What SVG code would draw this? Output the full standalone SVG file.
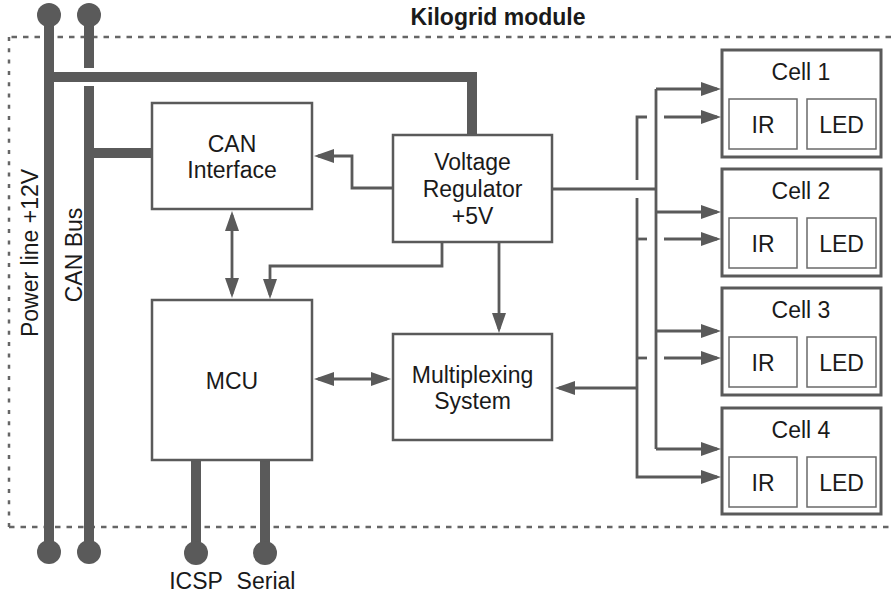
<svg xmlns="http://www.w3.org/2000/svg" width="891" height="596" viewBox="0 0 891 596">
<defs>
<style>
text{font-family:"Liberation Sans",Arial,Helvetica,sans-serif;font-size:23px;fill:#1a1a1a;text-anchor:middle}
.bold{font-weight:bold}
.box{fill:#fff;stroke:#5a5a5a;stroke-width:2.5}
.cell{fill:#fff;stroke:#5a5a5a;stroke-width:3}
.inner{fill:#fff;stroke:#6a6a6a;stroke-width:1.5}
.bus{fill:none;stroke:#5a5a5a;stroke-width:10}
.wire{fill:none;stroke:#5a5a5a;stroke-width:2.8}
.arr{marker-end:url(#ah)}
.darr{marker-start:url(#ah);marker-end:url(#ah)}
.dot{fill:#5a5a5a}
.frame{fill:none;stroke:#666;stroke-width:2.5;stroke-dasharray:5.5 6}
.frame-v{fill:none;stroke:#666;stroke-width:2.5;stroke-dasharray:4 7.3}
</style>
<marker id="ah" viewBox="0 0 20 14" refX="16" refY="7" markerWidth="20" markerHeight="14" markerUnits="userSpaceOnUse" orient="auto-start-reverse">
<path d="M0,0 L20,7 L0,14 z" fill="#5a5a5a"/>
</marker>
</defs>

<g id="frame">
<path class="frame" d="M891 37 H9"/>
<path class="frame-v" d="M9 37 V527"/>
<path class="frame" d="M9 527 H891"/>
<text class="bold" x="498" y="25">Kilogrid module</text>
</g>

<g id="connectors">
<!-- power line -->
<path class="bus" d="M49 15 V552"/>
<path class="bus" d="M49 77 H472 V136" stroke-linejoin="miter"/>
<!-- CAN bus -->
<path class="bus" d="M89 15 V68"/>
<path class="bus" d="M89 86 V552"/>
<path class="bus" d="M89 153 H153"/>
<!-- ICSP / Serial -->
<path class="bus" d="M196 460 V553"/>
<path class="bus" d="M265 460 V553"/>
<!-- regulator to CAN interface -->
<path class="wire arr" d="M393 188 H352 V156 H318"/>
<!-- regulator to MCU -->
<path class="wire arr" d="M442 242 V266 H270 V295"/>
<!-- CAN interface <-> MCU -->
<path class="wire darr" d="M232 215 V294"/>
<!-- regulator to multiplexing -->
<path class="wire arr" d="M499 242 V329"/>
<!-- MCU <-> multiplexing -->
<path class="wire darr" d="M318 379 H387"/>
<!-- regulator power to cells -->
<path class="wire" d="M552 189 H656"/>
<path class="wire" d="M656 89 V449"/>
<path class="wire arr" d="M656 89 H717"/>
<path class="wire arr" d="M656 212 H717"/>
<path class="wire arr" d="M656 331 H717"/>
<path class="wire arr" d="M656 449 H717"/>
<!-- multiplexing bus -->
<path class="wire" d="M647 117 H637 V180"/>
<path class="wire" d="M637 198 V477 H717" marker-end="url(#ah)"/>
<path class="wire arr" d="M664 117 H717"/>
<path class="wire" d="M637 239 H647"/>
<path class="wire arr" d="M664 239 H717"/>
<path class="wire" d="M637 358 H647"/>
<path class="wire arr" d="M664 358 H717"/>
<path class="wire arr" d="M637 388 H559"/>
</g>

<g id="terminals">
<circle class="dot" cx="49" cy="15" r="12"/>
<circle class="dot" cx="89" cy="15" r="12"/>
<circle class="dot" cx="49" cy="552" r="12"/>
<circle class="dot" cx="89" cy="552" r="12"/>
<circle class="dot" cx="196" cy="553" r="12"/>
<circle class="dot" cx="265" cy="553" r="12"/>
<text x="196" y="589">ICSP</text>
<text x="266" y="589">Serial</text>
<text transform="translate(38 253) rotate(-90)">Power line +12V</text>
<text transform="translate(82 255) rotate(-90)">CAN Bus</text>
</g>

<g id="can-interface">
<rect class="box" x="152" y="103" width="160" height="106"/>
<text x="232" y="152">CAN</text>
<text x="232" y="178">Interface</text>
</g>

<g id="voltage-regulator">
<rect class="box" x="393" y="135" width="159" height="107"/>
<text x="472.5" y="170">Voltage</text>
<text x="472.5" y="197">Regulator</text>
<text x="472.5" y="224">+5V</text>
</g>

<g id="mcu">
<rect class="box" x="152" y="300" width="160" height="160"/>
<text x="232" y="389">MCU</text>
</g>

<g id="multiplexing">
<rect class="box" x="393" y="334" width="159" height="106"/>
<text x="472.5" y="383">Multiplexing</text>
<text x="472.5" y="409">System</text>
</g>

<g id="cell1">
<rect class="cell" x="722" y="50" width="159" height="107"/>
<text x="801" y="80">Cell 1</text>
<rect class="inner" x="729" y="99" width="68" height="50"/>
<rect class="inner" x="807" y="99" width="69" height="50"/>
<text x="763" y="133">IR</text>
<text x="841.5" y="133">LED</text>
</g>

<g id="cell2">
<rect class="cell" x="722" y="169" width="159" height="107"/>
<text x="801" y="199">Cell 2</text>
<rect class="inner" x="729" y="218" width="68" height="50"/>
<rect class="inner" x="807" y="218" width="69" height="50"/>
<text x="763" y="252">IR</text>
<text x="841.5" y="252">LED</text>
</g>

<g id="cell3">
<rect class="cell" x="722" y="288" width="159" height="107"/>
<text x="801" y="318">Cell 3</text>
<rect class="inner" x="729" y="337" width="68" height="50"/>
<rect class="inner" x="807" y="337" width="69" height="50"/>
<text x="763" y="371">IR</text>
<text x="841.5" y="371">LED</text>
</g>

<g id="cell4">
<rect class="cell" x="722" y="408" width="159" height="106"/>
<text x="801" y="438">Cell 4</text>
<rect class="inner" x="729" y="457" width="68" height="50"/>
<rect class="inner" x="807" y="457" width="69" height="50"/>
<text x="763" y="491">IR</text>
<text x="841.5" y="491">LED</text>
</g>
</svg>
